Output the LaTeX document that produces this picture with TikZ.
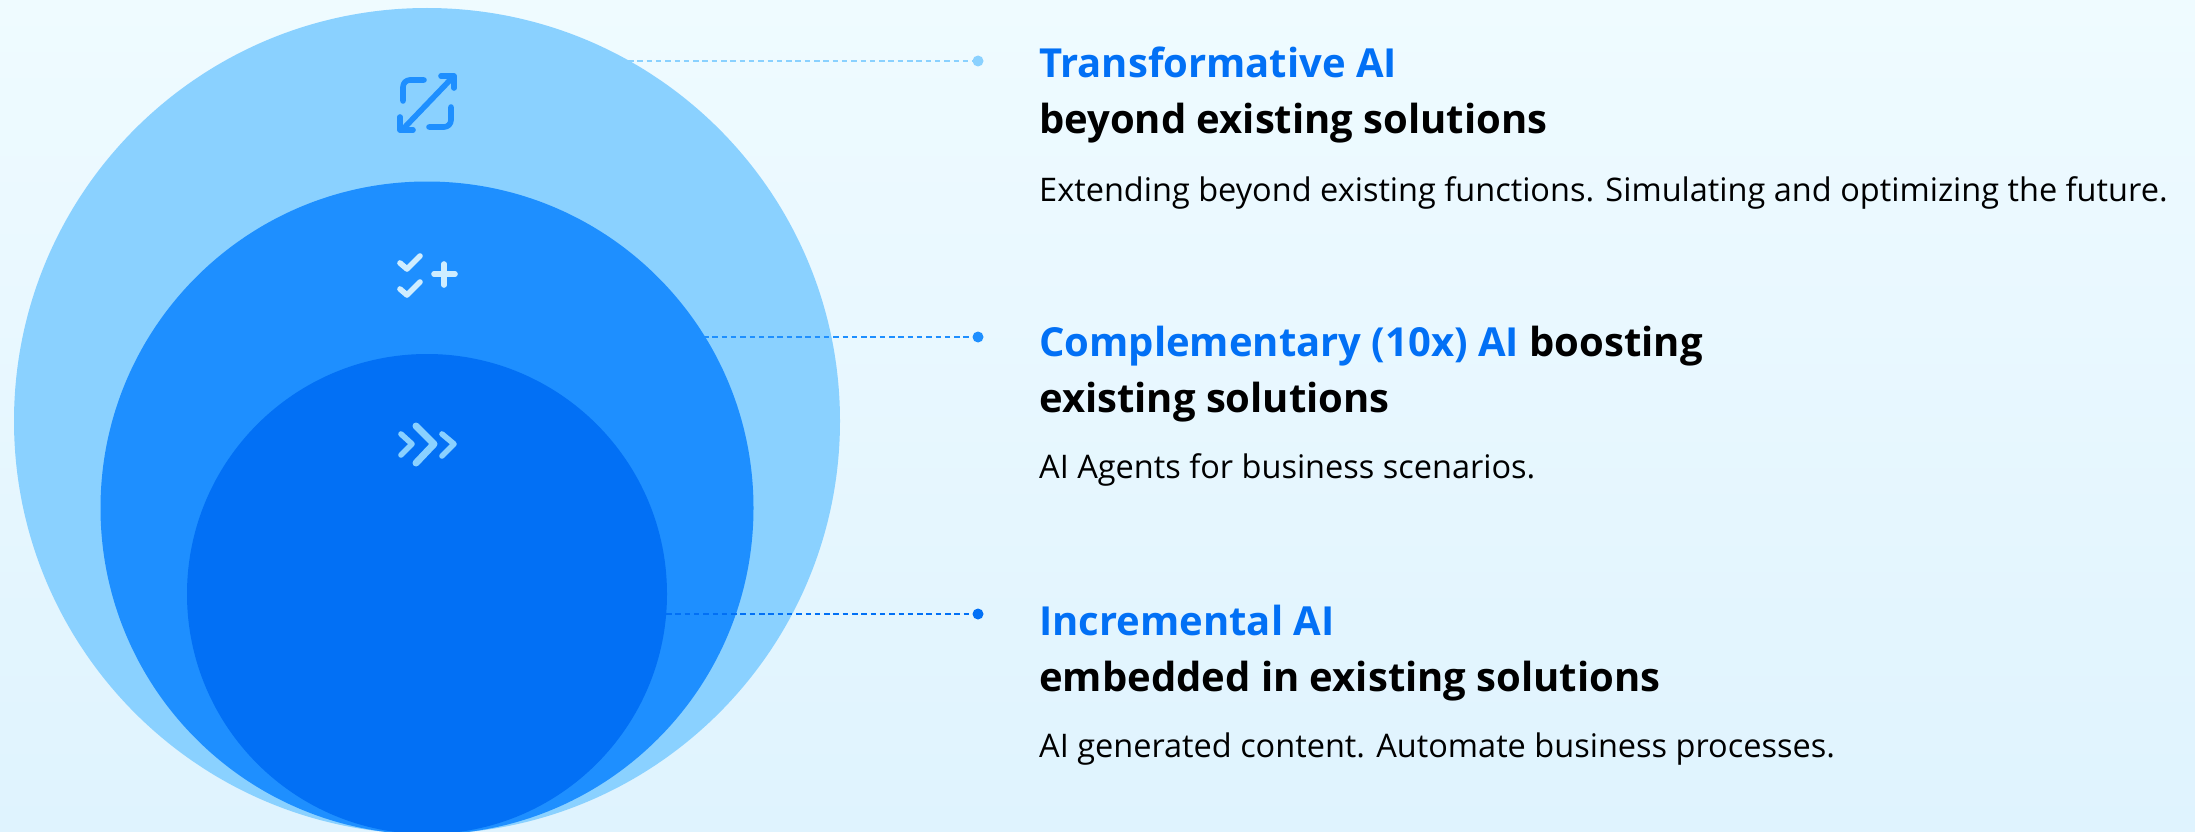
\documentclass[tikz,border=0pt]{standalone}
\usepackage{fontspec}
\setmainfont{Open Sans}
\definecolor{bgtop}{HTML}{EFFBFF}
\definecolor{bgbot}{HTML}{DFF3FE}
\definecolor{lightb}{HTML}{8AD1FF}
\definecolor{midb}{HTML}{1E8FFF}
\definecolor{deepb}{HTML}{0270F5}
\definecolor{iconw}{HTML}{CFEDFF}
\tikzset{x=1pt,y=-1pt,
 disc/.style={circle,inner sep=0pt,minimum size=#1},
 leader/.style={line width=1.2pt,dash pattern=on 5.5pt off 3.8pt},
 dot/.style={circle,inner sep=0pt,minimum size=11pt},
 icon/.style={line width=5.6pt,line cap=round,line join=round},
 title/.style={anchor=base west,inner sep=0pt,font=\fontsize{40}{46}\selectfont\bfseries},
 body/.style={anchor=base west,inner sep=0pt,font=\fontsize{32.5}{38}\selectfont},
}
\begin{document}
\begin{tikzpicture}
\useasboundingbox (0,0) rectangle (2195,832);
\shade[top color=bgtop,bottom color=bgbot] (0,0) rectangle (2195,832);
\node[disc=826pt,fill=lightb] (big) at (427,421) {};
\node[disc=653pt,fill=midb] (mid) at (427,508) {};
\node[disc=480pt,fill=deepb] (small) at (427,594) {};
% leaders
\node[dot,fill=lightb] (d1) at (978,61) {};
\node[dot,fill=midb] (d2) at (978,337) {};
\node[dot,fill=deepb] (d3) at (978,614) {};
\coordinate (s1) at (628,61);
\coordinate (s2) at (703,337);
\coordinate (s3) at (666,614);
\draw[leader,lightb] (s1) -- (d1);
\draw[leader,midb] (s2) -- (d2);
\draw[leader,deepb] (s3) -- (d3);
% icon 1
\begin{scope}[icon,midb]
\draw (424,80) -- (410,80) arc[start angle=-90,end angle=-180,radius=7] -- (403,101);
\draw (451,107) -- (451,120) arc[start angle=0,end angle=90,radius=7] -- (429,127);
\draw (405,127) -- (452,78);
\draw (441,76) -- (454,76) -- (454,88);
\draw (400,117) -- (400,130) -- (413,130);
\end{scope}
% icon 2
\begin{scope}[icon,iconw]
\draw (400,263) -- (407,269) -- (420,256);
\draw (400,289) -- (407,295) -- (420,282);
\draw (434,274) -- (455,274) (444,264) -- (444,285);
\end{scope}
% icon 3
\begin{scope}[icon,lightb]
\draw (401,434) -- (412,444) -- (401,455);
\draw[line width=7pt] (416,426) -- (434,444) -- (416,463);
\draw (442,434) -- (454,444) -- (442,456);
\end{scope}
% text
\node[title,deepb] (t1) at (1039,78) {Transformative AI};
\node[title] (t1b) at (1039,134) {beyond existing solutions};
\node[body] (b1) at (1039,201) {Extending beyond existing functions. Simulating and optimizing the future.};
\node[title] (t2) at (1039,356) {\textcolor{deepb}{Complementary (10x) AI} boosting};
\node[title] (t2b) at (1039,412) {existing solutions};
\node[body] (b2) at (1039,478) {AI Agents for business scenarios.};
\node[title,deepb] (t3) at (1039,635) {Incremental AI};
\node[title] (t3b) at (1039,691) {embedded in existing solutions};
\node[body] (b3) at (1039,757) {AI generated content. Automate business processes.};
\end{tikzpicture}
\end{document}
